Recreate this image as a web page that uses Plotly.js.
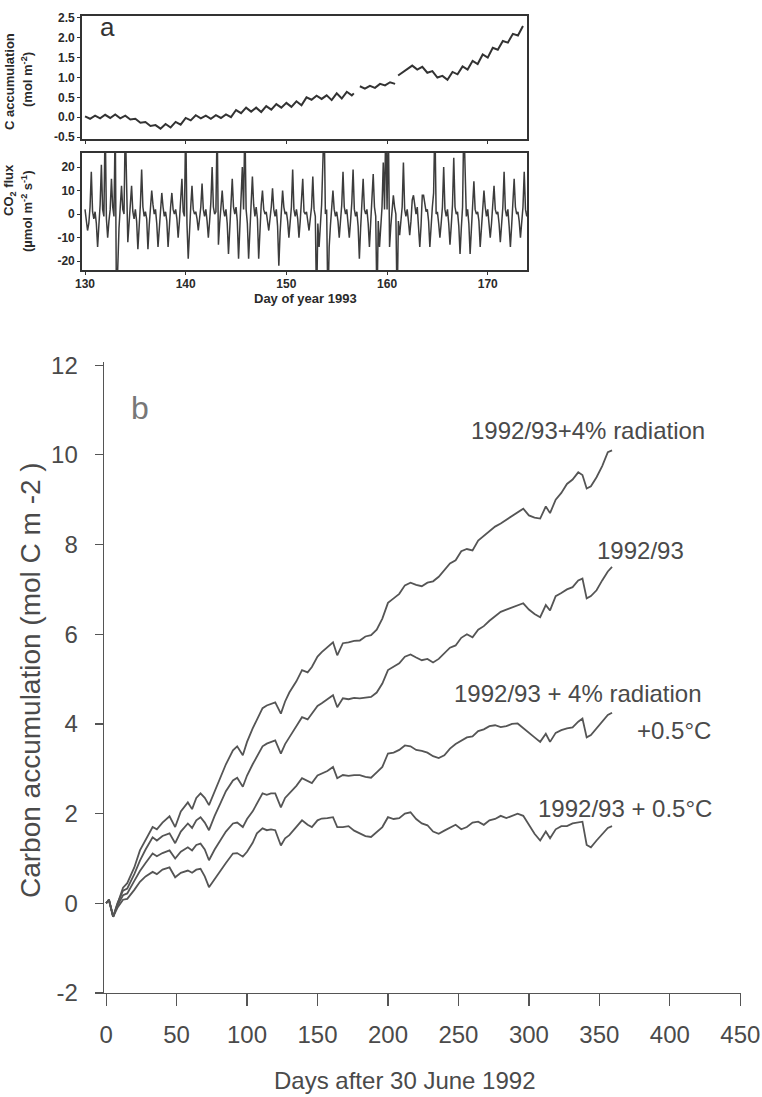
<!DOCTYPE html>
<html><head><meta charset="utf-8">
<script src="https://cdn.plot.ly/plotly-3.0.1.min.js"></script>
<style>html,body{margin:0;padding:0;background:#fff}#chart{width:762px;height:1097px}</style>
</head><body><div id="chart"></div>
<script>
// ---------- Panel a (top): C accumulation, day of year 1993 ----------
const accDay = [130,130.5,131,131.5,132,132.5,133,133.5,134,134.5,
  135,135.5,136,136.5,137,137.5,138,138.5,139,139.5,
  140,140.5,141,141.5,142,142.5,143,143.5,144,144.5,
  145,145.5,146,146.5,147,147.5,148,148.5,149,149.5,
  150,150.5,151,151.5,152,152.5,153,153.5,154,154.5,
  155,155.5,156,156.5,156.7,156.9,157.3,157.8,158.3,158.8,
  159.3,159.8,160.3,160.8,160.9,161.1,161.5,162,162.5,163,
  163.5,164,164.5,165,165.5,166,166.5,167,167.5,168,
  168.5,169,169.5,170,170.5,171,171.5,172,172.5,173,173.5];
const accVal = [0.02,-0.04,0.04,-0.03,0.06,-0.02,0.07,-0.03,0.04,-0.06,
  -0.04,-0.14,-0.12,-0.22,-0.2,-0.29,-0.17,-0.26,-0.12,-0.19,
  -0.02,-0.08,0.05,-0.03,0.04,-0.04,0.05,-0.02,0.07,0.0,
  0.18,0.1,0.24,0.14,0.24,0.13,0.28,0.19,0.33,0.24,
  0.36,0.26,0.4,0.3,0.5,0.44,0.54,0.46,0.55,0.43,
  0.6,0.47,0.64,0.55,0.6,null,0.78,0.72,0.79,0.74,
  0.84,0.8,0.88,0.84,null,1.05,1.12,1.22,1.3,1.2,
  1.27,1.12,1.16,1.0,1.04,0.94,1.14,1.08,1.28,1.2,
  1.42,1.34,1.58,1.5,1.75,1.7,1.92,1.88,2.1,2.06,2.3];

// ---------- Panel a (bottom): CO2 flux, 8 samples per day from day 130 ----------
const fluxStartDay = 130;
const fluxSamplesPerDay = 8;
const fluxVal = [
  2,-3,-7,-4,3,18,1,-2,      1,-4,-14,-5,4,21,2,-1,     40,-2,-10,-3,2,15,3,-1,    40,-40,-17,-6,3,12,2,0,
  40,3,-12,-4,5,12,1,-2,     2,-3,-15,-6,4,19,3,-1,     1,-2,-15,-5,3,10,4,0,      2,-4,-14,-6,2,9,3,-1,
  1,-3,-14,-4,3,9,2,0,       2,-2,-10,-3,4,15,1,-1,     40,-4,-19,-6,3,12,2,0,     1,-2,-7,-2,3,13,2,-1,
  2,-3,-10,-3,5,20,3,0,      1,40,-13,-4,3,10,2,-1,     2,-4,-17,-5,4,15,3,0,      3,-3,-19,-6,5,20,2,40,
  2,-4,-19,-7,3,16,4,-1,     3,-2,-19,-6,4,10,2,0,      1,-3,-7,-2,3,11,2,-1,      2,-5,-22,-8,4,10,3,0,
  1,-3,-10,-4,3,19,2,-1,     2,-2,-10,-3,4,15,1,0,      1,-3,-7,-2,3,16,2,-1,      -40,-4,-14,-5,4,22,40,0,
  2,-40,-14,-5,3,10,2,-1,    1,-3,-10,-4,4,18,3,0,      2,-4,-10,-3,5,19,2,-1,     1,-5,-19,-6,3,15,2,0,
  2,-4,-14,-5,4,17,3,-1,     -40,-3,-14,-5,3,22,2,40,   2,40,-14,-5,4,8,3,0,       -40,-3,-9,-4,3,22,2,-1,
  2,-3,-9,-3,6,8,4,0,        3,-4,-14,-5,8,8,5,1,       2,-3,-14,-4,3,9,40,0,      1,-4,-10,-4,3,20,2,-1,
  2,-4,-13,-5,4,24,3,0,      1,-5,-17,-6,3,40,23,-1,    2,-4,-17,-5,4,14,2,0,      1,-3,-14,-5,3,10,3,-1,
  2,-3,-10,-4,4,12,2,0,      1,-4,-12,-4,3,18,2,-1,     2,-5,-14,-5,4,15,3,0,      1,-3,-10,-4,3,18,2,-1,
  2,-3,-8];

// ---------- Panel b: carbon accumulation, days after 30 June 1992 ----------
const bDays = [0,2,5,8,12,15,20,24,28,33,36,40,45,49,53,58,61,64,67,70,
  73,77,81,85,90,93,97,100,104,107,111,114,117,120,124,127,130,135,139,143,
  146,150,153,157,161,164,168,172,176,180,184,188,192,196,200,204,208,212,216,220,
  224,228,232,236,240,244,248,252,256,260,264,268,272,276,280,284,288,292,296,300,
  304,308,312,315,319,323,327,331,335,338,341,344,348,352,356,359];
const rad4 = [0,0.08,-0.3,0.0,0.35,0.45,0.8,1.18,1.4,1.7,
  1.65,1.8,1.94,1.7,2.05,2.25,2.1,2.35,2.45,2.35,
  2.19,2.5,2.8,3.1,3.41,3.5,3.3,3.6,3.9,4.08,
  4.35,4.41,4.45,4.48,4.23,4.5,4.7,4.95,5.2,5.15,
  5.27,5.5,5.6,5.7,5.82,5.53,5.8,5.82,5.85,5.86,
  5.95,5.98,6.1,6.35,6.7,6.8,6.9,7.09,7.15,7.1,
  7.07,7.15,7.18,7.28,7.42,7.58,7.65,7.85,7.9,7.87,
  8.09,8.2,8.3,8.4,8.47,8.55,8.65,8.72,8.8,8.65,
  8.6,8.58,8.85,8.7,9.0,9.15,9.35,9.45,9.61,9.55,
  9.25,9.3,9.5,9.75,10.06,10.1];
const base = [0,0.08,-0.3,0.0,0.28,0.33,0.65,0.95,1.2,1.47,
  1.4,1.5,1.56,1.34,1.6,1.78,1.68,1.85,1.92,1.8,
  1.63,1.95,2.22,2.5,2.74,2.8,2.6,2.85,3.1,3.26,
  3.5,3.56,3.6,3.63,3.34,3.55,3.7,3.95,4.15,4.1,
  4.23,4.4,4.46,4.55,4.64,4.37,4.57,4.55,4.58,4.57,
  4.58,4.6,4.7,4.9,5.2,5.28,5.35,5.5,5.55,5.48,
  5.42,5.45,5.37,5.45,5.57,5.7,5.75,5.92,6.0,5.93,
  6.1,6.18,6.3,6.4,6.5,6.55,6.6,6.65,6.69,6.55,
  6.45,6.38,6.65,6.53,6.85,6.92,7.0,7.05,7.2,7.24,
  6.8,6.85,6.98,7.2,7.4,7.5];
const rad4temp = [0,0.08,-0.3,-0.05,0.18,0.22,0.5,0.72,0.9,1.11,
  1.05,1.12,1.18,1.0,1.15,1.25,1.18,1.3,1.33,1.2,
  0.96,1.2,1.4,1.6,1.78,1.8,1.7,1.88,2.05,2.22,
  2.45,2.42,2.45,2.45,2.14,2.35,2.45,2.62,2.79,2.72,
  2.68,2.85,2.9,2.95,3.04,2.79,2.86,2.84,2.86,2.86,
  2.82,2.8,2.92,3.04,3.34,3.36,3.42,3.52,3.5,3.42,
  3.4,3.36,3.28,3.24,3.3,3.45,3.55,3.62,3.7,3.72,
  3.84,3.88,3.95,3.97,3.93,3.95,4.0,4.01,3.9,3.8,
  3.7,3.6,3.78,3.6,3.8,3.86,3.9,3.92,4.05,4.12,
  3.7,3.75,3.9,4.05,4.2,4.25];
const temp05 = [0,0.08,-0.3,-0.1,0.08,0.1,0.3,0.48,0.6,0.7,
  0.65,0.75,0.8,0.58,0.68,0.73,0.68,0.75,0.77,0.6,
  0.36,0.55,0.73,0.9,1.11,1.12,1.04,1.15,1.35,1.56,
  1.67,1.63,1.65,1.63,1.29,1.45,1.52,1.7,1.85,1.75,
  1.7,1.85,1.89,1.9,1.92,1.7,1.7,1.72,1.62,1.56,
  1.5,1.48,1.6,1.7,1.92,1.88,1.9,2.0,2.03,1.88,
  1.78,1.74,1.6,1.55,1.62,1.68,1.75,1.65,1.7,1.8,
  1.82,1.75,1.85,1.88,1.95,1.9,1.95,2.0,1.95,1.75,
  1.55,1.4,1.6,1.45,1.65,1.72,1.72,1.78,1.8,1.82,
  1.3,1.25,1.4,1.55,1.68,1.72];

const seriesLabels = ['1992/93+4% radiation','1992/93','1992/93 + 4% radiation','+0.5°C','1992/93 + 0.5°C'];
const accTicks = [-0.5,0,0.5,1,1.5,2,2.5];
const accTickText = ['-0.5','0.0','0.5','1.0','1.5','2.0','2.5'];
const fluxTicks = [-20,-10,0,10,20];
const fluxTickText = ['-20','-10','0','10','20'];
const dayTicks = [130,140,150,160,170];
const bYTicks = [-2,0,2,4,6,8,10,12];
const bYTickText = ['-2','0','2','4','6','8','10','12'];
const bXTicks = [0,50,100,150,200,250,300,350,400,450];

// ---------- styling ----------
const H = 1097, W = 762;
const px = v => v / W, py = v => 1 - v / H;
const boldA = {family:'Liberation Sans, Arial, sans-serif', size:12, color:'#2a2a2a', weight:'bold'};
const sansB = 'Liberation Sans, Arial, sans-serif';
const bFont = {family:sansB, size:24, color:'#4a4a4a'};
const lineB = {color:'#555', width:1.8};

const traces = [
  {x:accDay, y:accVal, xaxis:'x', yaxis:'y', mode:'lines', connectgaps:false,
   line:{color:'#333', width:2}, hoverinfo:'skip'},
  {y:fluxVal, x0:fluxStartDay, dx:1/fluxSamplesPerDay, xaxis:'x2', yaxis:'y2', mode:'lines',
   line:{color:'#3c3c3c', width:1.5}, hoverinfo:'skip'},
  {x:bDays, y:rad4, xaxis:'x3', yaxis:'y3', mode:'lines', line:lineB, name:seriesLabels[0]},
  {x:bDays, y:base, xaxis:'x3', yaxis:'y3', mode:'lines', line:lineB, name:seriesLabels[1]},
  {x:bDays, y:rad4temp, xaxis:'x3', yaxis:'y3', mode:'lines', line:lineB, name:seriesLabels[2]+' '+seriesLabels[3]},
  {x:bDays, y:temp05, xaxis:'x3', yaxis:'y3', mode:'lines', line:lineB, name:seriesLabels[4]}
];

const aBox = {showline:true, mirror:true, linecolor:'#333', linewidth:1.8, showgrid:false, zeroline:false,
  ticks:'outside', ticklen:3, tickcolor:'#333', tickfont:boldA};

function ann(text, x, y, font, extra) {
  return Object.assign({text:text, xref:'paper', yref:'paper', x:x, y:y, showarrow:false,
    xanchor:'center', yanchor:'middle', font:font}, extra || {});
}
const boldT = Object.assign({}, boldA, {size:13});

const layout = {
  width:W, height:H, margin:{l:0,r:0,t:0,b:0}, paper_bgcolor:'#fff', plot_bgcolor:'#fff', showlegend:false,
  xaxis: Object.assign({}, aBox, {domain:[px(82),px(527)], range:[129.7,173.9], anchor:'y',
    tickvals:dayTicks, showticklabels:false}),
  yaxis: Object.assign({}, aBox, {domain:[py(139),py(16)], range:[-0.55,2.55], anchor:'x',
    tickvals:accTicks, ticktext:accTickText, ticklabelstandoff:0}),
  xaxis2: Object.assign({}, aBox, {domain:[px(82),px(527)], range:[129.7,173.9], anchor:'y2',
    tickvals:dayTicks, ticklabelstandoff:-1}),
  yaxis2: Object.assign({}, aBox, {domain:[py(270),py(153)], range:[-23.8,26], anchor:'x2',
    tickvals:fluxTicks, ticktext:fluxTickText, ticklabelstandoff:0}),
  xaxis3: {domain:[px(104),px(741)], range:[-1.5,450.5], anchor:'y3', showline:true, linecolor:'#555', linewidth:1.4,
    showgrid:false, zeroline:false, ticks:'outside', ticklen:12, tickwidth:1.2, tickcolor:'#555',
    tickvals:bXTicks, tickfont:bFont, ticklabelstandoff:8},
  yaxis3: {domain:[py(993),py(362)], range:[-2,12.07], anchor:'x3', showline:true, linecolor:'#555', linewidth:1.4,
    showgrid:false, zeroline:false, ticks:'outside', ticklen:8, tickwidth:1.2, tickcolor:'#555',
    tickvals:bYTicks, ticktext:bYTickText, tickfont:bFont, ticklabelstandoff:12},
  annotations: [
    ann('a', px(107), py(27), {family:sansB, size:26, color:'#333'}),
    ann('C accumulation', px(9), py(82), boldT, {textangle:-90}),
    ann('(mol m<sup>-2</sup>)', px(27), py(80), boldT, {textangle:-90}),
    ann('CO<sub>2</sub> flux', px(9), py(190), boldT, {textangle:-90}),
    ann('(µmol m<sup>-2</sup> s<sup>-1</sup>)', px(27), py(212), boldT, {textangle:-90}),
    ann('Day of year 1993', px(305), py(299), boldT),
    ann('b', 24, 11.04, {family:sansB, size:32, color:'#777'}, {xref:'x3', yref:'y3'}),
    ann(seriesLabels[0], 342, 10.55, bFont, {xref:'x3', yref:'y3'}),
    ann(seriesLabels[1], 379, 7.87, bFont, {xref:'x3', yref:'y3'}),
    ann(seriesLabels[2], 335, 4.68, bFont, {xref:'x3', yref:'y3'}),
    ann(seriesLabels[3], 403, 3.86, bFont, {xref:'x3', yref:'y3'}),
    ann(seriesLabels[4], 368, 2.12, bFont, {xref:'x3', yref:'y3'}),
    ann('Days after 30 June 1992', px(405), py(1080), Object.assign({}, bFont, {size:24})),
    ann('Carbon accumulation (mol C m -2 )', px(30), py(680), Object.assign({}, bFont, {size:28}), {textangle:-90})
  ]
};

Plotly.newPlot('chart', traces, layout, {staticPlot:true, displayModeBar:false});
</script></body></html>
